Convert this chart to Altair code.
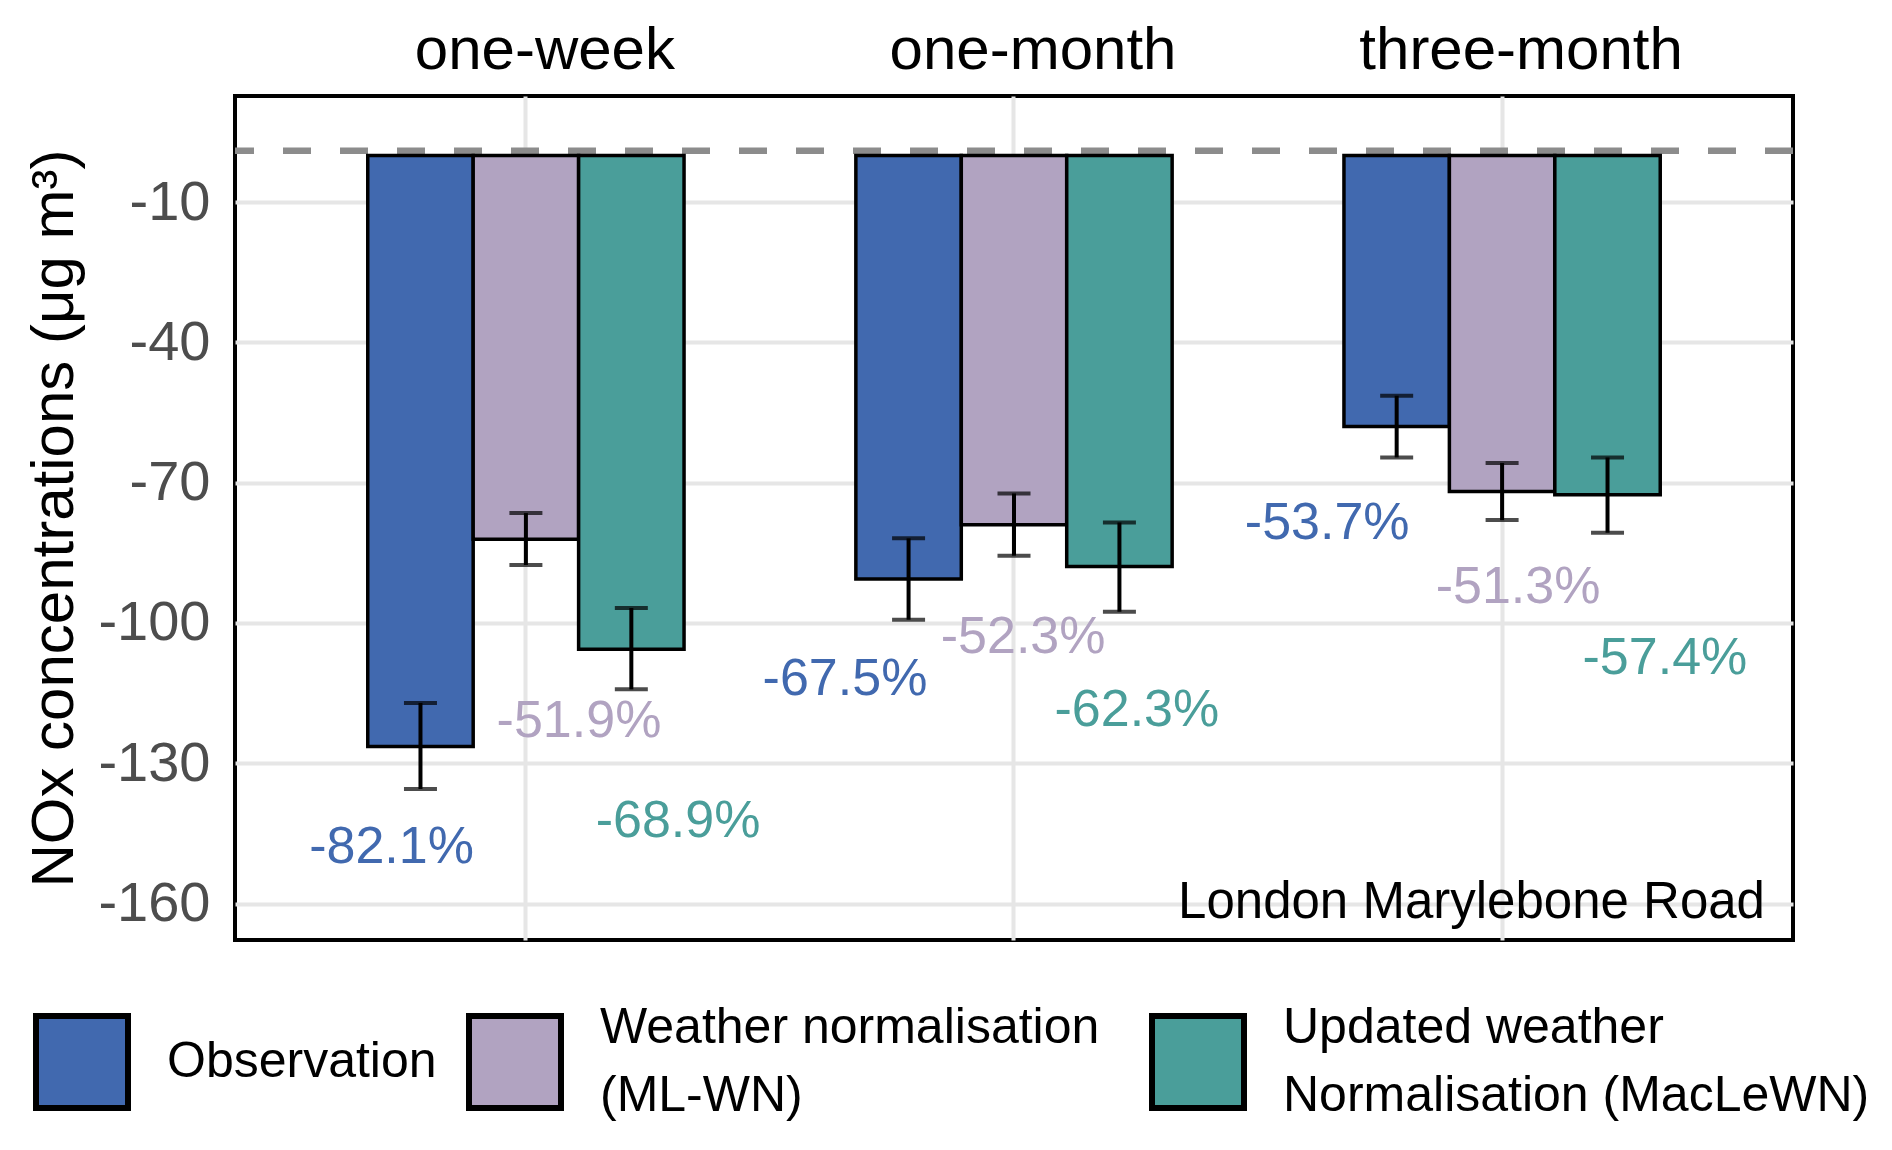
import altair as alt
import pandas as pd

# ---- data ----
periods = ["one-week", "one-month", "three-month"]
series = ["Observation", "Weather normalisation\n(ML-WN)", "Updated weather\nNormalisation (MacLeWN)"]
colours = ["#4169AF", "#B1A3C1", "#4A9E9A"]

obs = [-126.4, -90.6, -58.0]
obs_lo = [-135.5, -99.3, -64.6]
obs_hi = [-117.1, -81.9, -51.4]

mlwn = [-82.1, -79.0, -71.9]
mlwn_lo = [-87.6, -85.6, -78.0]
mlwn_hi = [-76.5, -72.3, -65.8]

maclewn = [-105.6, -87.9, -72.6]
maclewn_lo = [-114.2, -97.6, -80.7]
maclewn_hi = [-96.8, -78.5, -64.6]

# percentage annotations (x in category units: 1 = one-week, 2 = one-month, 3 = three-month)
pct_text = ["-82.1%", "-51.9%", "-68.9%", "-67.5%", "-52.3%", "-62.3%", "-53.7%", "-51.3%", "-57.4%"]
pct_x = [0.725, 1.109, 1.312, 1.654, 2.019, 2.252, 2.642, 3.033, 3.334]
pct_y = [-147.9, -120.9, -142.3, -112.0, -103.0, -118.6, -78.6, -92.4, -107.5]

site = "London Marylebone Road"
site_x = [3.539]
site_y = [-163.0]

zero_ref = [1.0]
y_ticks = [-160, -130, -100, -70, -40, -10]

rows = []
for i, p in enumerate(periods):
    vals = [obs[i], mlwn[i], maclewn[i]]
    los = [obs_lo[i], mlwn_lo[i], maclewn_lo[i]]
    his = [obs_hi[i], mlwn_hi[i], maclewn_hi[i]]
    for s, v, lo, hi in zip(series, vals, los, his):
        rows.append({"period": p, "series": s, "value": v, "lo": lo, "hi": hi})
bars_df = pd.DataFrame(rows)

lab_df = pd.DataFrame({
    "label": pct_text,
    "u": pct_x,
    "value": pct_y,
    "series": [series[k % 3] for k in range(len(pct_text))],
})
site_df = pd.DataFrame({"t": [site], "u": site_x, "value": site_y})
zero_df = pd.DataFrame({"value": zero_ref})

FONT = "Liberation Sans"
GRID = "#e6e6e6"

yscale = alt.Scale(domain=[-167.8, 12.7], nice=False, zero=False)
yaxis = alt.Axis(
    values=y_ticks, labelExpr="'' + datum.value", ticks=False, domain=False,
    labelFontSize=56, labelColor="#4d4d4d", labelPadding=25,
    gridColor=GRID, gridWidth=4,
    title="NOx concentrations (μg m³)", titleFontSize=60, titleFontWeight="normal",
    titleColor="black", titleX=-163, titleY=422, titleAngle=-90,
    titleBaseline="alphabetic", titleAlign="center",
)


def yq(field):
    return alt.Y(field, type="quantitative", scale=yscale, axis=yaxis)


xband = alt.Scale(domain=periods, paddingInner=0.352, paddingOuter=0.272)
x_enc = alt.X(
    "period:N", sort=periods, scale=xband,
    axis=alt.Axis(
        orient="top", title=None, ticks=False, domain=False, labelAngle=0,
        labelFontSize=60, labelColor="black", labelPadding=28, labelLimit=1000,
        labelBaseline="alphabetic", labelOffset=19,
        grid=True, bandPosition=0.5, gridColor=GRID, gridWidth=4,
    ),
)
xo = alt.XOffset("series:N", sort=series, scale=alt.Scale(domain=series, paddingInner=0, paddingOuter=0))
xq = alt.Scale(domain=[0.4042, 3.5964], nice=False, zero=False)

legend_common = dict(
    orient="none", title=None, symbolType="square", symbolSize=8464,
    symbolStrokeColor="black", symbolStrokeWidth=6, symbolOpacity=1,
    labelFontSize=50, labelColor="black", labelOffset=36, labelLimit=900, padding=0,
)


def bar_layer(names, cols, legend):
    return alt.Chart(bars_df).transform_filter(
        alt.FieldOneOfPredicate(field="series", oneOf=names)
    ).mark_bar(stroke="black", strokeWidth=3.5).encode(
        x=x_enc, xOffset=xo, y=yq("value"), y2=alt.datum(0),
        color=alt.Color("series:N", scale=alt.Scale(domain=names, range=cols), legend=legend),
    )


bars_obs = bar_layer(series[:1], colours[:1], alt.Legend(
    legendX=-202, legendY=917, labelBaseline="middle", **legend_common))
bars_wn = bar_layer(series[1:], colours[1:], alt.Legend(
    legendX=231, legendY=917, direction="horizontal", columns=2, columnPadding=40,
    labelExpr="split(datum.label, '\\n')", labelBaseline="line-bottom", **legend_common))

zero_line = alt.Chart(zero_df).mark_rule(
    stroke="#8c8c8c", strokeWidth=6.5, strokeDash=[28, 29]
).encode(y=yq("value"))

err = alt.Chart(bars_df).mark_rule(color="black", strokeWidth=4).encode(
    x=x_enc, xOffset=xo, y=yq("lo"), y2="hi"
)
cap_lo = alt.Chart(bars_df).mark_tick(color="black", orient="horizontal", size=33, thickness=4).encode(
    x=x_enc, xOffset=xo, y=yq("lo")
)
cap_hi = alt.Chart(bars_df).mark_tick(color="black", orient="horizontal", size=33, thickness=4).encode(
    x=x_enc, xOffset=xo, y=yq("hi")
)

main = alt.layer(zero_line, bars_obs, bars_wn, err, cap_lo, cap_hi).resolve_scale(color="independent")

labels = alt.Chart(lab_df).mark_text(fontSize=52, baseline="middle", align="center").encode(
    x=alt.X("u:Q", scale=xq, axis=None),
    y=yq("value"),
    text="label:N",
    color=alt.Color("series:N", scale=alt.Scale(domain=series, range=colours), legend=None),
)

note = alt.Chart(site_df).mark_text(fontSize=51, baseline="alphabetic", align="right", color="black").encode(
    x=alt.X("u:Q", scale=xq, axis=None),
    y=yq("value"),
    text="t:N",
)

chart = alt.layer(main, labels, note).resolve_scale(x="independent", color="independent").properties(
    width=1558, height=844,
    autosize=alt.AutoSizeParams(type="none"),
    padding={"left": 227, "top": 88, "right": 91, "bottom": 202},
).configure(
    font=FONT,
    style={"guide-label": {"lineHeight": 68}},
).configure_view(stroke="black", strokeWidth=4)

chart.save("out.html", embed_options={"renderer": "svg", "actions": False})
